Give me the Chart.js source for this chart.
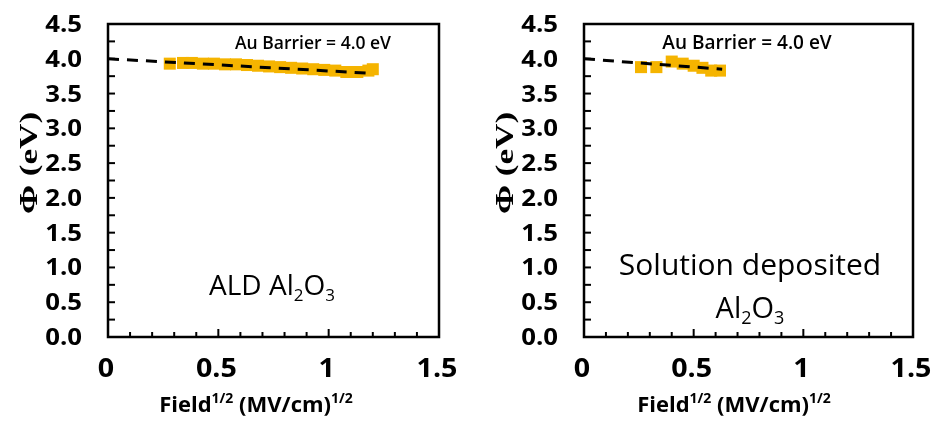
<!DOCTYPE html>
<html><head><meta charset="utf-8">
<script src="https://cdn.jsdelivr.net/npm/chart.js@4/dist/chart.umd.min.js"></script>
<style>
html,body{margin:0;padding:0;background:#fff;width:933px;height:427px;overflow:hidden}
#wrap{position:relative;width:933px;height:427px}
.c{position:absolute;top:0;height:427px}
</style></head><body><div id="wrap">
<div class="c" style="left:0;width:466px"><canvas id="c1"></canvas></div>
<div class="c" style="left:466px;width:467px"><canvas id="c2"></canvas></div>
</div>
<script>
// ---- data ----
const xTickLabels = ['0', '0.5', '1', '1.5'];
const yTickLabels = ['0.0','0.5','1.0','1.5','2.0','2.5','3.0','3.5','4.0','4.5'];
const aldX = [0.28, 0.34, 0.38, 0.43, 0.48, 0.53, 0.58, 0.63, 0.68, 0.73, 0.78, 0.83, 0.88, 0.93, 0.98, 1.03, 1.08, 1.13, 1.18, 1.20];
const aldY = [3.93, 3.94, 3.94, 3.93, 3.93, 3.92, 3.92, 3.91, 3.90, 3.89, 3.88, 3.87, 3.86, 3.85, 3.84, 3.83, 3.81, 3.81, 3.83, 3.85];
const aldFitX = [0, 1.2];
const aldFitY = [4.0, 3.79];
const solX = [0.26, 0.33, 0.40, 0.45, 0.50, 0.54, 0.58, 0.62];
const solY = [3.88, 3.88, 3.96, 3.93, 3.90, 3.87, 3.83, 3.83];
const solFitX = [0, 0.63];
const solFitY = [4.0, 3.85];
const barrierLabel = 'Au Barrier = 4.0 eV';
const yTitle = '\u03A6 (eV)';

const GOLD = '#F5B400';
const SANS = '"Open Sans", "DejaVu Sans", sans-serif';
const SERIF = '"Liberation Serif", "DejaVu Serif", serif';

function pts(xs, ys){ return xs.map((x,i)=>({x:x, y:ys[i]})); }

// draw text with a horizontal stretch factor
function txt(ctx, s, x, y, font, align, sx){
  ctx.save();
  ctx.font = font; ctx.textBaseline = 'alphabetic'; ctx.textAlign = 'left';
  const w = ctx.measureText(s).width * sx;
  let x0 = x;
  if (align === 'center') x0 = x - w/2;
  else if (align === 'right') x0 = x - w;
  ctx.translate(x0, y); ctx.scale(sx, 1);
  ctx.fillText(s, 0, 0);
  ctx.restore();
}

function drawRich(ctx, parts, cx, baseline, size, weight){
  const fs = p => p.mode==='n' ? size : Math.round(size*0.62);
  let total = 0;
  parts.forEach(p=>{ ctx.font = weight+' '+fs(p)+'px '+SANS; total += ctx.measureText(p.t).width; });
  let x = cx - total/2;
  ctx.textBaseline = 'alphabetic'; ctx.textAlign='left';
  parts.forEach(p=>{
    ctx.font = weight+' '+fs(p)+'px '+SANS;
    let y = baseline;
    if (p.mode==='sub') y = baseline + size*0.22;
    if (p.mode==='sup') y = baseline - size*0.4;
    ctx.fillText(p.t, x, y);
    x += ctx.measureText(p.t).width;
  });
}

const framePlugin = {
  id:'frame',
  afterDraw(chart, args, opts){
    const ctx = chart.ctx, a = chart.chartArea;
    const xs = chart.scales.x, ys = chart.scales.y;
    ctx.save();
    ctx.strokeStyle = '#000'; ctx.lineWidth = 2.5;
    ctx.strokeRect(a.left, a.top, a.right-a.left, a.bottom-a.top);
    ctx.lineWidth = 2;
    for (let i=1;i<15;i++){
      const px = xs.getPixelForValue(i*0.1);
      const len = (i%5===0) ? 8 : 5;
      ctx.beginPath(); ctx.moveTo(px, a.bottom); ctx.lineTo(px, a.bottom-len); ctx.stroke();
    }
    for (let i=1;i<18;i++){
      const py = ys.getPixelForValue(i*0.25);
      ctx.beginPath(); ctx.moveTo(a.left, py); ctx.lineTo(a.left+7, py); ctx.stroke();
    }
    ctx.fillStyle = '#000';
    // tick labels
    yTickLabels.forEach(t=>{
      const py = ys.getPixelForValue(parseFloat(t));
      txt(ctx, t, a.left-26, py+8, 'bold 23px '+SANS, 'right', 1.12);
    });
    xTickLabels.forEach(t=>{
      const px = xs.getPixelForValue(parseFloat(t));
      txt(ctx, t, px-2, 377, 'bold 27px '+SANS, 'center', 1.06);
    });
    // y title
    ctx.save();
    ctx.translate(opts.yTitleX, opts.yTitleY);
    ctx.rotate(-Math.PI/2);
    ctx.font = 'bold 26px '+SERIF;
    const st = 1.35;
    const w = ctx.measureText(yTitle).width * st;
    ctx.translate(-w/2, 0);
    ctx.scale(st, 1);
    ctx.textAlign='left'; ctx.textBaseline='middle';
    ctx.fillText(yTitle, 0, 0);
    ctx.restore();
    // x title
    drawRich(ctx, [{t:'Field',mode:'n'},{t:'1/2',mode:'sup'},{t:' (MV/cm)',mode:'n'},{t:'1/2',mode:'sup'}], opts.xTitleX, 412, 22, 'bold');
    // barrier annotation
    txt(ctx, barrierLabel, opts.annX, 49, '600 '+opts.annSize+'px '+SANS, 'center', 1);
    // sample labels
    opts.labels.forEach(l=> drawRich(ctx, l.parts, l.x, l.y, l.size, '400'));
    ctx.restore();
  }
};

function makeChart(id, xsData, ysData, fx, fy, padRight, opts){
  return new Chart(document.getElementById(id), {
    type:'scatter',
    data:{ datasets:[
      { data: pts(fx, fy), showLine:true, borderColor:'#000', borderWidth:3, borderDash:[11,8], pointRadius:0, order:0 },
      { data: pts(xsData, ysData), pointStyle:'rect', pointRadius:8.5, backgroundColor:GOLD, borderColor:GOLD, borderWidth:0, showLine:false, order:1 }
    ]},
    options:{
      responsive:true, maintainAspectRatio:false, animation:false,
      layout:{ padding:{ top:24, right:padRight, left:0, bottom:0 } },
      plugins:{ legend:{display:false}, tooltip:{enabled:false}, frame:opts },
      scales:{
        x:{ type:'linear', min:0, max:1.5, ticks:{ display:false },
            grid:{ display:false, drawTicks:false }, border:{ display:false },
            afterFit: s=>{ s.height = 90; } },
        y:{ type:'linear', min:0, max:4.5, ticks:{ display:false },
            grid:{ display:false, drawTicks:false }, border:{ display:false },
            afterFit: s=>{ s.width = opts.yWidth; } }
      }
    },
    plugins:[framePlugin]
  });
}

makeChart('c1', aldX, aldY, aldFitX, aldFitY, 27, {
  yWidth:108, yTitleX:30, yTitleY:163, xTitleX:256, annX:313, annSize:17.5,
  labels:[ {x:272, y:295, size:28, parts:[{t:'ALD Al',mode:'n'},{t:'2',mode:'sub'},{t:'O',mode:'n'},{t:'3',mode:'sub'}]} ]
});
makeChart('c2', solX, solY, solFitX, solFitY, 20, {
  yWidth:118, yTitleX:40, yTitleY:163, xTitleX:268, annX:281, annSize:19,
  labels:[ {x:284, y:275, size:30, parts:[{t:'Solution deposited',mode:'n'}]},
           {x:284, y:318, size:29, parts:[{t:'Al',mode:'n'},{t:'2',mode:'sub'},{t:'O',mode:'n'},{t:'3',mode:'sub'}]} ]
});
</script>
</body></html>
